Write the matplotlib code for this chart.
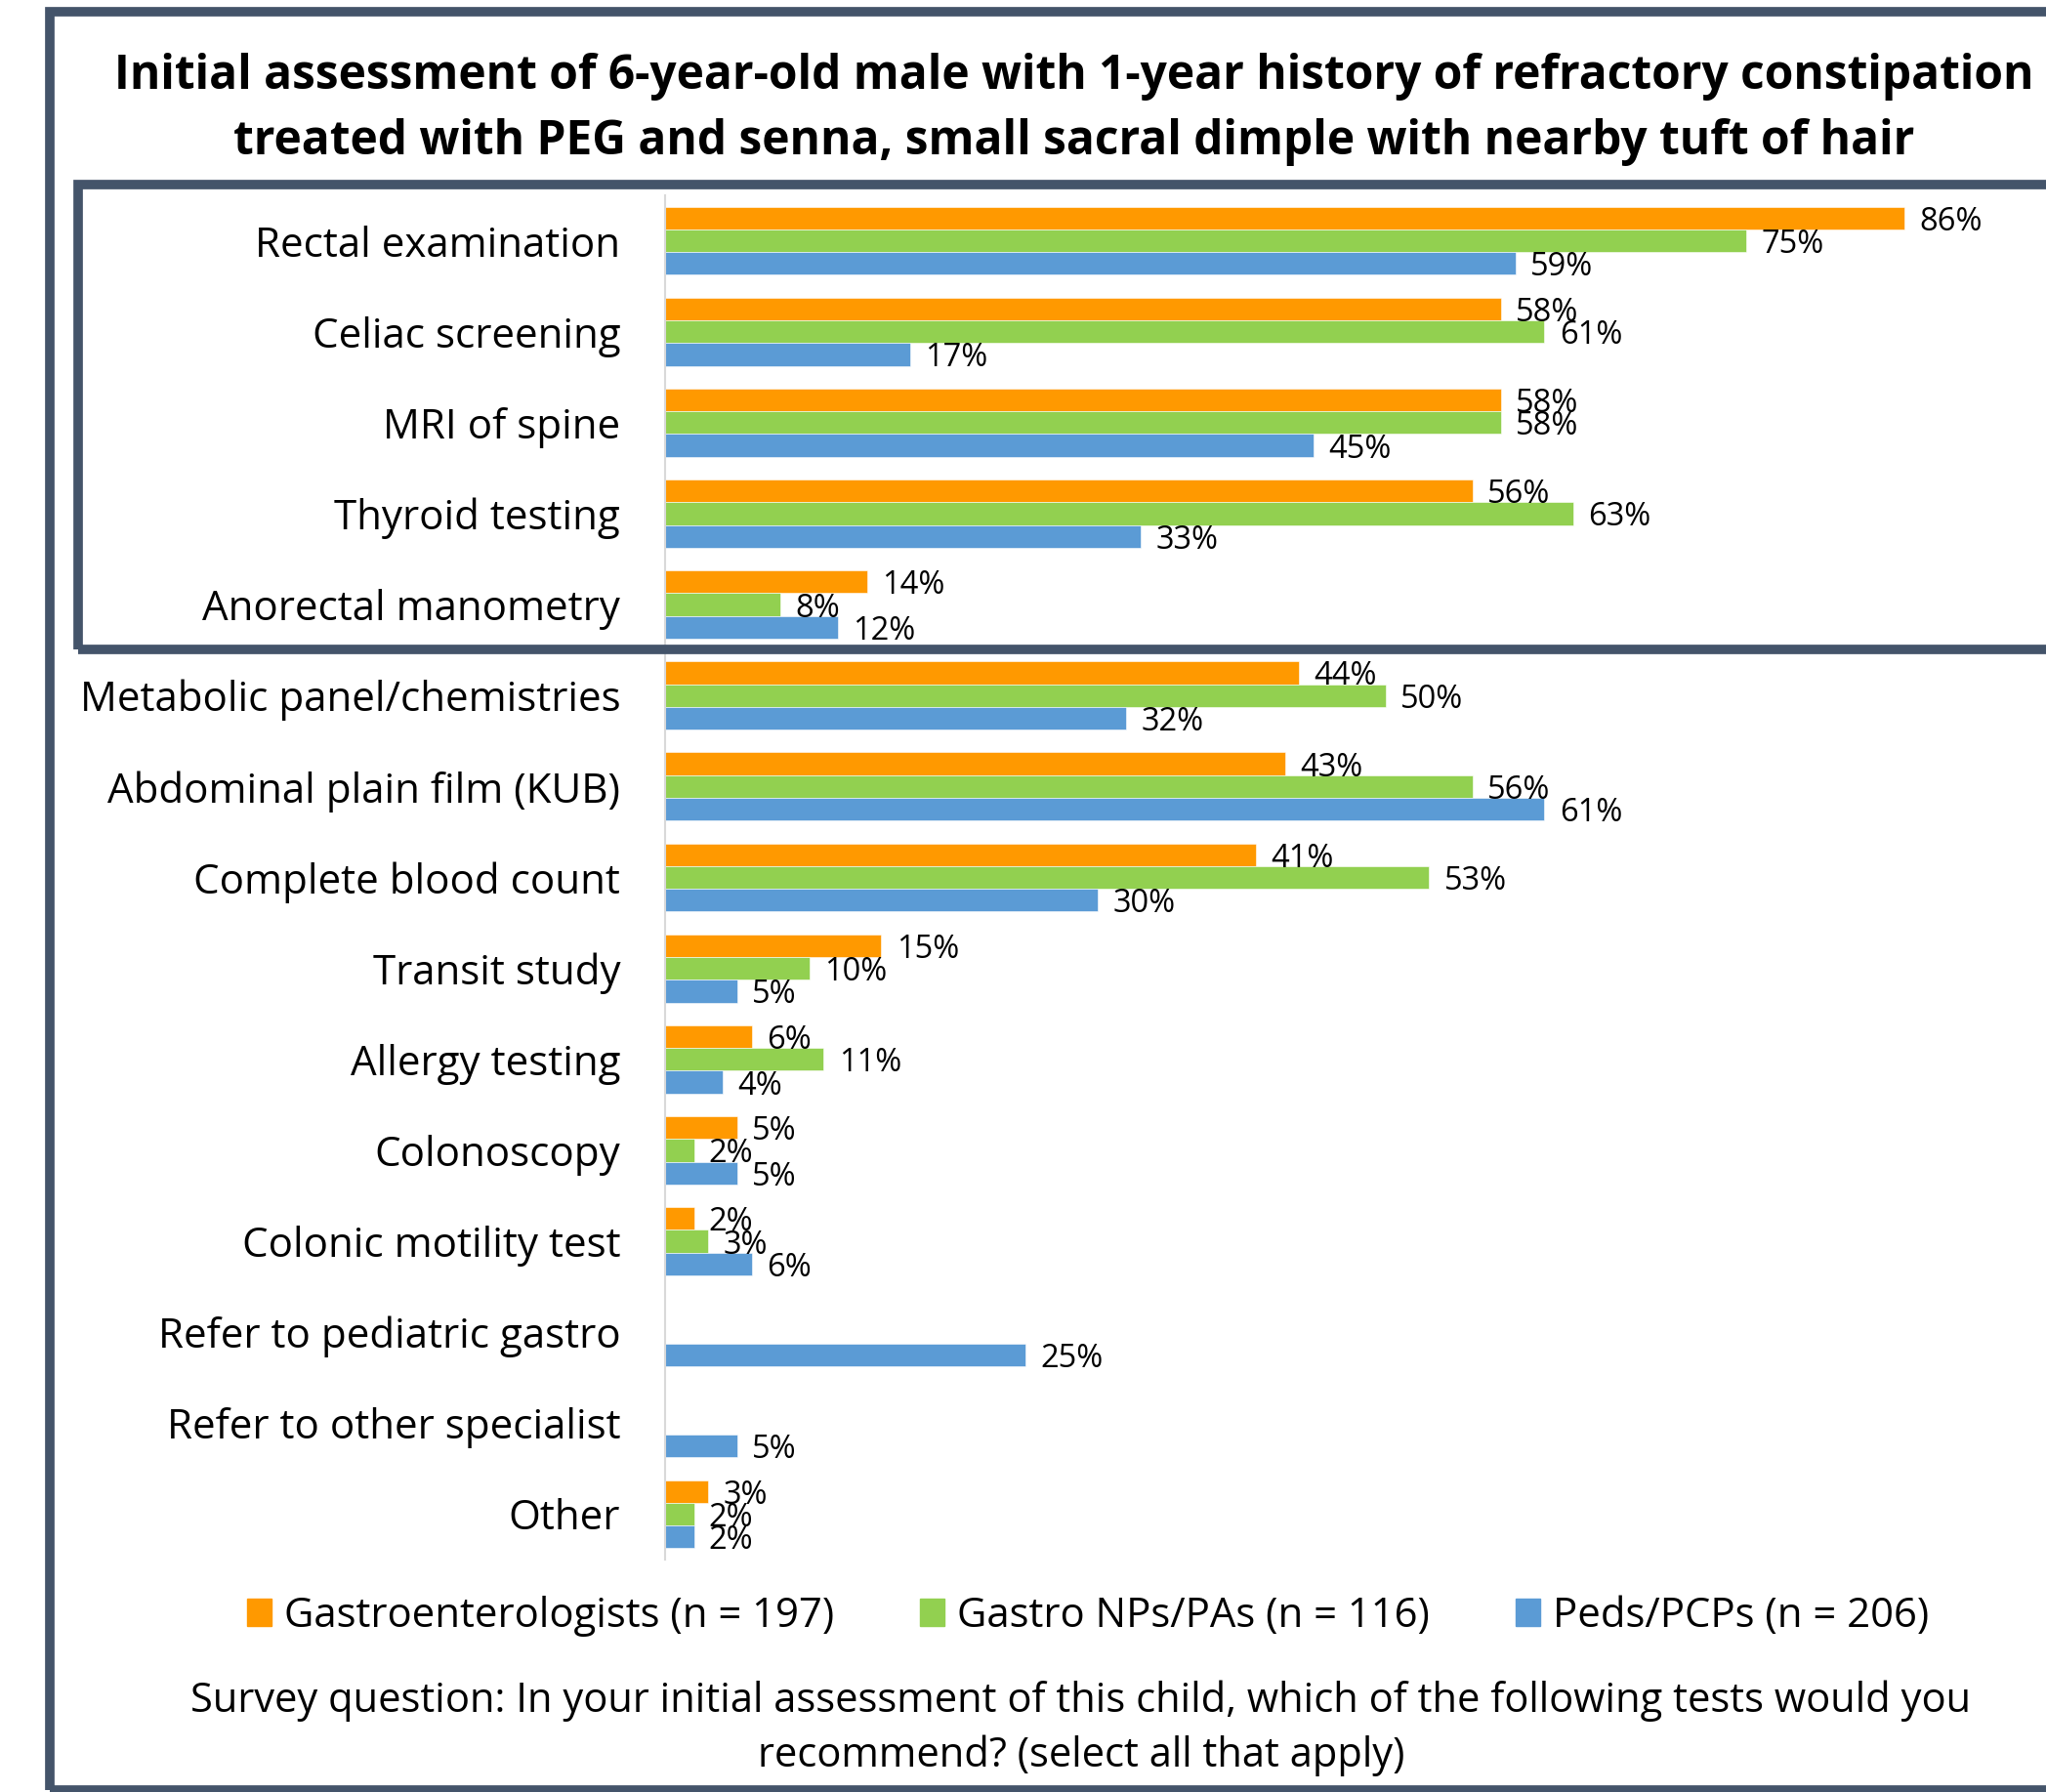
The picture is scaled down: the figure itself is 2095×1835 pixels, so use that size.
import matplotlib
matplotlib.use("Agg")
import matplotlib.pyplot as plt
import matplotlib.patches as patches
import numpy as np

plt.rcParams['font.family'] = ['Open Sans', 'DejaVu Sans']

# Data (percent of respondents)
categories = [
    "Rectal examination", "Celiac screening", "MRI of spine", "Thyroid testing",
    "Anorectal manometry", "Metabolic panel/chemistries", "Abdominal plain film (KUB)",
    "Complete blood count", "Transit study", "Allergy testing", "Colonoscopy",
    "Colonic motility test", "Refer to pediatric gastro", "Refer to other specialist", "Other",
]
gastro = [86, 58, 58, 56, 14, 44, 43, 41, 15, 6, 5, 2, 0, 0, 3]
gastro_np = [75, 61, 58, 63, 8, 50, 56, 53, 10, 11, 2, 3, 0, 0, 2]
peds = [59, 17, 45, 33, 12, 32, 61, 30, 5, 4, 5, 6, 25, 5, 2]

series_names = ["Gastroenterologists (n = 197)", "Gastro NPs/PAs (n = 116)", "Peds/PCPs (n = 206)"]
series_colors = ["#FF9900", "#92D050", "#5B9BD5"]
border_color = "#44546A"

W, H = 2095, 1835
fig = plt.figure(figsize=(W / 100, H / 100), dpi=100)

# axes placed in pixel terms: bars start at x=681, 14.76 px per percent
x0 = 681
px_per_pct = 14.76
xmax = 95
ax = fig.add_axes([x0 / W, 1 - 1597 / H, xmax * px_per_pct / W, (1597 - 200) / H])

y = np.arange(len(categories))
h = 0.25
for i, (vals, name, col) in enumerate(zip([gastro, gastro_np, peds], series_names, series_colors)):
    bars = ax.barh(y + (i - 1) * h, vals, height=h, color=col, label=name,
                   edgecolor="white", linewidth=0.4)
    # no label for empty bars
    labels = [f"{v}%" if v > 0 else "" for v in vals]
    txts = ax.bar_label(bars, labels=labels, padding=11, fontsize=23.5, color="black")
    for t in txts:
        t.set_y(t.get_position()[1])
        t.set_va("center_baseline")

ax.set_xlim(0, xmax)
ax.set_ylim(len(categories) - 0.5, -0.5)
ax.set_yticks(y)
ax.set_yticklabels(categories, fontsize=30.3)
ax.tick_params(axis="y", length=0, pad=33)
ax.set_xticks([])
for s in ["top", "right", "bottom"]:
    ax.spines[s].set_visible(False)
ax.spines["left"].set_color("#D9D9D9")
ax.spines["left"].set_linewidth(1.5)
ax.patch.set_alpha(0)

# title
fig.text(1100 / W, 1 - 112 / H,
         "Initial assessment of 6-year-old male with 1-year history of refractory constipation\n"
         "treated with PEG and senna, small sacral dimple with nearby tuft of hair",
         ha="center", va="center", fontsize=34.5, fontweight="bold", linespacing=1.5)

# legend
handles = [patches.Patch(color=c, label=n) for c, n in zip(series_colors, series_names)]
fig.legend(handles=handles, loc="center", bbox_to_anchor=(1114 / W, 1 - 1655 / H), ncol=3,
           frameon=False, fontsize=30.2, handlelength=0.6, handleheight=0.65,
           handletextpad=0.3, columnspacing=2.1)

# footnote
fig.text(1107 / W, 1 - 1770 / H,
         "Survey question: In your initial assessment of this child, which of the following tests would you\n"
         "recommend? (select all that apply)",
         ha="center", va="center", fontsize=30, linespacing=1.42)

# outer frame and highlight box
lw = 7
fig.add_artist(patches.Rectangle((51 / W, 1 - 1833 / H), (2300 - 51) / W, (1833 - 12) / H,
                                 transform=fig.transFigure, fill=False, edgecolor=border_color,
                                 linewidth=lw, zorder=10))
fig.add_artist(patches.Rectangle((80 / W, 1 - 665 / H), (2300 - 80) / W, (665 - 189) / H,
                                 transform=fig.transFigure, fill=False, edgecolor=border_color,
                                 linewidth=lw, zorder=10))

fig.savefig("out.png", dpi=100)
